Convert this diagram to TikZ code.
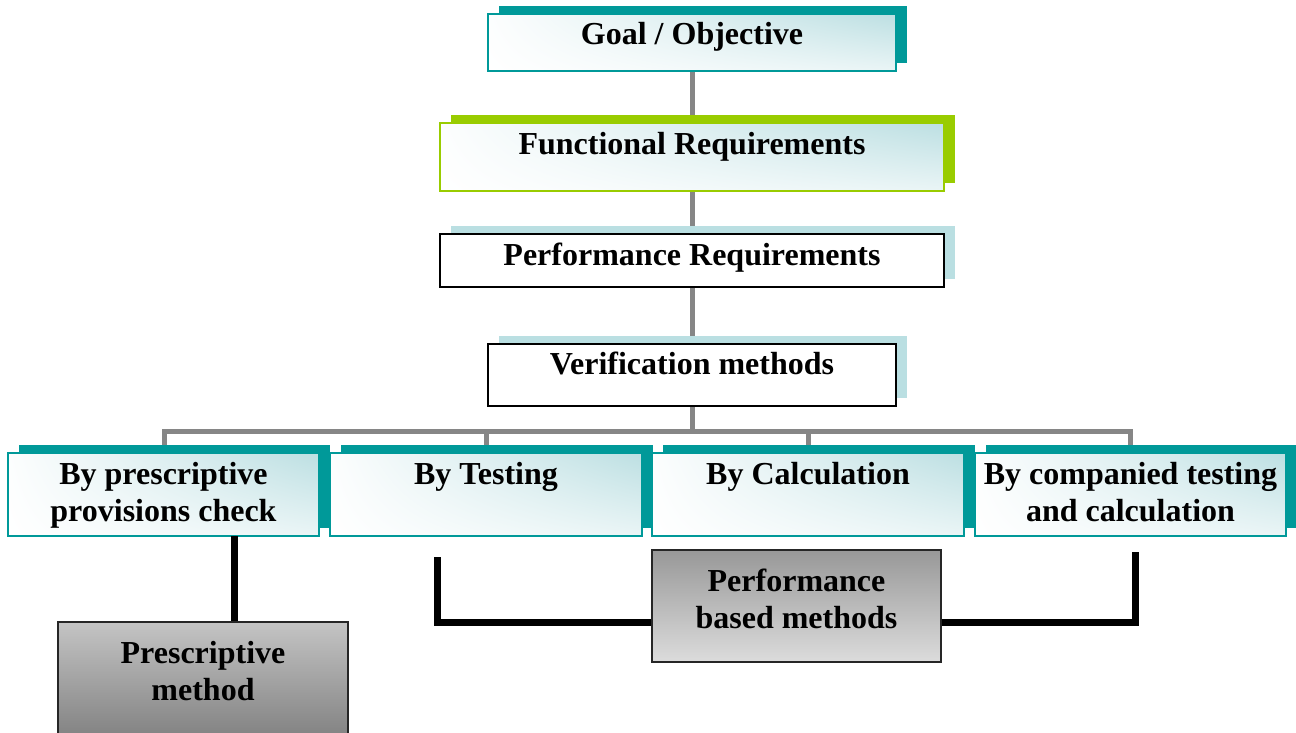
\documentclass[tikz,border=0pt]{standalone}
\usepackage{fontspec}
\setmainfont{Liberation Serif}
\usetikzlibrary{shadows,backgrounds,shadings}
\definecolor{tealc}{HTML}{009999}
\definecolor{greenc}{HTML}{99CC00}
\definecolor{cyanshadow}{HTML}{BADFE2}
\definecolor{cyanfill}{HTML}{BCDFE2}
\definecolor{cyanlow}{HTML}{EAF5F6}
\definecolor{lineg}{HTML}{868686}
\definecolor{greytop}{HTML}{C4C4C4}
\definecolor{greybot}{HTML}{747474}
\definecolor{perftop}{HTML}{989898}
\definecolor{perfbot}{HTML}{DCDCDC}
\begin{document}
\begin{tikzpicture}[x=1pt,y=-1pt,
  box/.style={rectangle, inner sep=0pt},
  glassfill/.style={upper left=white!96!cyanfill, upper right=cyanfill,
                    lower left=white, lower right=cyanlow},
  tealbox/.style={box, glassfill, draw=tealc, line width=1.5pt,
                  general shadow={fill=tealc, shadow xshift=11pt, shadow yshift=8pt}},
  greenbox/.style={box, glassfill, draw=greenc, line width=2pt,
                  general shadow={fill=greenc, shadow xshift=11pt, shadow yshift=8pt}},
  plainbox/.style={box, fill=white, draw=black, line width=2pt,
                  general shadow={fill=cyanshadow, shadow xshift=11pt, shadow yshift=8pt}},
  greybox/.style={box, draw=black!85, line width=1.5pt},
  lbl/.style={font=\fontsize{32}{37}\selectfont\bfseries, inner sep=0pt,
              anchor=base, align=center},
  gline/.style={draw=lineg, line width=5pt},
  bline/.style={draw=black, line width=7pt},
]
\useasboundingbox (0,0) rectangle (1296,733);
\clip (0,0) rectangle (1296,733);

% main chain
\node[tealbox,  minimum width=408pt, minimum height=57pt] (goal) at (692,42.5) {};
\node[greenbox, minimum width=504pt, minimum height=68pt] (func) at (692,157) {};
\node[plainbox, minimum width=504pt, minimum height=53pt] (preq) at (692,260.5) {};
\node[plainbox, minimum width=408pt, minimum height=62pt] (ver)  at (692,375) {};

\node[lbl] (goalt) at (692,45)  {Goal / Objective};
\node[lbl] (funct) at (692,154) {Functional Requirements};
\node[lbl] (preqt) at (692,265) {Performance Requirements};
\node[lbl] (vert)  at (692,374) {Verification methods};

% verification routes
\node[tealbox, minimum width=311pt, minimum height=83pt] (b1) at (163.5,494.5) {};
\node[tealbox, minimum width=312pt, minimum height=83pt] (b2) at (486,494.5) {};
\node[tealbox, minimum width=312pt, minimum height=83pt] (b3) at (808,494.5) {};
\node[tealbox, minimum width=311pt, minimum height=83pt] (b4) at (1130.5,494.5) {};

% (base of a two-line label is the baseline of its last line)
\node[lbl] (b1t) at (163.5,521) {By prescriptive\\provisions check};
\node[lbl] (b2t) at (486,484)   {By Testing};
\node[lbl] (b3t) at (808,484)   {By Calculation};
\node[lbl] (b4t) at (1130.5,521) {By companied testing\\and calculation};

% method groups
\node[greybox, top color=perftop, bottom color=perfbot,
      minimum width=289pt, minimum height=112pt] (perf) at (796.5,606) {};
\node[lbl] (perft) at (796.5,628) {Performance\\based methods};

\node[greybox, top color=greytop, bottom color=greybot,
      minimum width=290pt, minimum height=140pt] (presc) at (203,692) {};
\node[lbl] (presct) at (203,700) {Prescriptive\\method};

% grey tree connectors behind the boxes
\begin{pgfonlayer}{background}
  \coordinate (bar) at (692,431);
  \draw[gline] (goal.south) -- (func.north);
  \draw[gline] (func.south) -- (preq.north);
  \draw[gline] (preq.south) -- (ver.north);
  \draw[gline] (ver.south) -- (bar);
  \draw[gline, line join=miter] ([xshift=0.5pt]b1.north) |- (bar) -| (b4.north);
  \draw[gline] (b2.north) -- (b2.north |- bar);
  \draw[gline] (b3.north) -- (b3.north |- bar);
\end{pgfonlayer}

% black links to the method groups
\coordinate (pdrop) at (234,536);
\draw[bline] (pdrop) -- (pdrop |- presc.north);
\coordinate (lt) at (437,557);
\coordinate (rt) at (1135,552);
\draw[bline, line join=miter] (lt) |- ([yshift=-16pt]perf.west);
\draw[bline, line join=miter] (rt) |- ([yshift=-16pt]perf.east);
\end{tikzpicture}
\end{document}
